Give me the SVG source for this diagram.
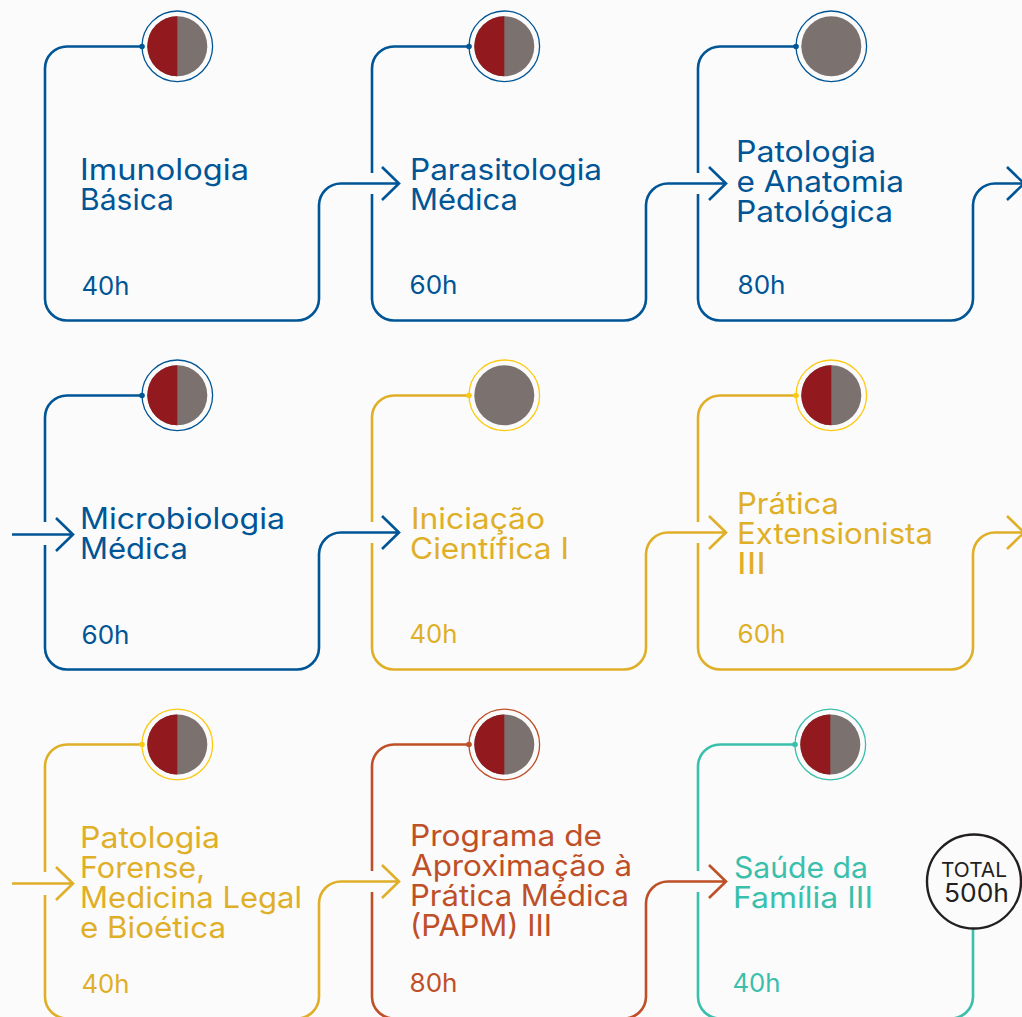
<svg xmlns="http://www.w3.org/2000/svg" width="1022" height="1017" viewBox="0 0 1022 1017">
<style>
.l{fill:none;stroke-width:2.6}
.ring{fill:none;stroke-width:1.3}
text{font-family:"Inter","Noto Sans","Liberation Sans",sans-serif;font-size:29.500px}
.h{font-size:25px}
.blue{stroke:#005596}.tb{fill:#005596}
.yel{stroke:#e0af28}.ty{fill:#e0af28}
.red{stroke:#bf4f27}.tr{fill:#bf4f27}
.grn{stroke:#3abfac}.tg{fill:#3abfac}
.r{fill:#921a1e}.g{fill:#7b7270}
</style>
<defs>
<g id="half"><circle r="30" class="g"/><path d="M0-30A30 30 0 0 0 0 30Z" class="r"/></g>
</defs>
<rect width="1022" height="1017" fill="#fbfbfb"/>
<g id="connectors">
<path class="l blue" d="M142 46.500H67A22 22 0 0 0 45 68.500V299A22 22 0 0 0 67 320.500H297A22 22 0 0 0 319 299V205A22 22 0 0 1 341 183.500H399M382 167L399 183.500L382 200"/>
<path class="l blue" d="M469 46.500H394A22 22 0 0 0 372 68.500V173M372 194V299A22 22 0 0 0 394 320.500H624A22 22 0 0 0 646 299V205A22 22 0 0 1 668 183.500H726M709 167L726 183.500L709 200"/>
<path class="l blue" d="M796 46.500H720A22 22 0 0 0 698 68.500V173M698 194V299A22 22 0 0 0 720 320.500H951A22 22 0 0 0 973 299V205A22 22 0 0 1 995 183.500H1024M1007 167L1024 183.500L1007 200"/>
<path class="l blue" d="M12 534.500H73M56 518L73 534.500L56 551"/>
<path class="l blue" d="M142 395.500H67A22 22 0 0 0 45 417.500V522M45 545V648A22 22 0 0 0 67 669.500H297A22 22 0 0 0 319 648V554A22 22 0 0 1 341 532.500H399M382 516L399 532.500L382 549"/>
<path class="l yel" d="M469 395.500H394A22 22 0 0 0 372 417.500V522M372 543V648A22 22 0 0 0 394 669.500H624A22 22 0 0 0 646 648V554A22 22 0 0 1 668 532.500H726M709 516L726 532.500L709 549"/>
<path class="l yel" d="M796 395.500H720A22 22 0 0 0 698 417.500V522M698 543V648A22 22 0 0 0 720 669.500H951A22 22 0 0 0 973 648V554A22 22 0 0 1 995 532.500H1024M1007 516L1024 532.500L1007 549"/>
<path class="l yel" d="M12 883.500H73M56 867L73 883.500L56 900"/>
<path class="l yel" d="M142 744.500H67A22 22 0 0 0 45 766.500V872M45 895V997A22 22 0 0 0 67 1018.500H297A22 22 0 0 0 319 997V903A22 22 0 0 1 341 881.500H399M382 865L399 881.500L382 898"/>
<path class="l red" d="M469 744.500H394A22 22 0 0 0 372 766.500V871M372 892V997A22 22 0 0 0 394 1018.500H624A22 22 0 0 0 646 997V903A22 22 0 0 1 668 881.500H726M709 865L726 881.500L709 898"/>
<path class="l grn" d="M796 744.500H720A22 22 0 0 0 698 766.500V871M698 892V997A22 22 0 0 0 720 1018.500H951A22 22 0 0 0 973 997V929"/>
</g>
<g id="node-imunologia"><circle cx="177.300" cy="46.300" r="35.300" class="ring blue"/><circle cx="142" cy="46.500" r="2.800" class="tb"/><use href="#half" x="177.300" y="46.300"/><text class="tb" x="80" y="180" textLength="169" lengthAdjust="spacingAndGlyphs">Imunologia</text><text class="tb" x="80" y="210" textLength="94" lengthAdjust="spacingAndGlyphs">Básica</text><text class="tb h" x="81.500" y="295" textLength="48" lengthAdjust="spacingAndGlyphs">40h</text></g>
<g id="node-parasitologia"><circle cx="504.300" cy="46.300" r="35.300" class="ring blue"/><circle cx="469" cy="46.500" r="2.800" class="tb"/><use href="#half" x="504.300" y="46.300"/><text class="tb" x="410" y="180" textLength="192" lengthAdjust="spacingAndGlyphs">Parasitologia</text><text class="tb" x="410" y="210" textLength="108" lengthAdjust="spacingAndGlyphs">Médica</text><text class="tb h" x="409.500" y="294" textLength="48" lengthAdjust="spacingAndGlyphs">60h</text></g>
<g id="node-patologia"><circle cx="831.300" cy="46.300" r="35.300" class="ring blue"/><circle cx="796" cy="46.500" r="2.800" class="tb"/><circle cx="831.300" cy="46.300" r="30" class="g"/><text class="tb" x="736" y="162" textLength="140" lengthAdjust="spacingAndGlyphs">Patologia</text><text class="tb" x="736.500" y="192" textLength="167.500" lengthAdjust="spacingAndGlyphs">e Anatomia</text><text class="tb" x="736" y="222" textLength="157" lengthAdjust="spacingAndGlyphs">Patológica</text><text class="tb h" x="737.500" y="294" textLength="48" lengthAdjust="spacingAndGlyphs">80h</text></g>
<g id="node-microbiologia"><circle cx="177.300" cy="395.300" r="35.300" class="ring blue"/><circle cx="142" cy="395.500" r="2.800" class="tb"/><use href="#half" x="177.300" y="395.300"/><text class="tb" x="80" y="529" textLength="205" lengthAdjust="spacingAndGlyphs">Microbiologia</text><text class="tb" x="80" y="559" textLength="108" lengthAdjust="spacingAndGlyphs">Médica</text><text class="tb h" x="81.500" y="644" textLength="48" lengthAdjust="spacingAndGlyphs">60h</text></g>
<g id="node-iniciacao"><circle cx="504.300" cy="395.300" r="35.300" class="ring" stroke="#fdc911"/><circle cx="469" cy="395.500" r="2.800" fill="#fdc911"/><circle cx="504.300" cy="395.300" r="30" class="g"/><text class="ty" x="411" y="529" textLength="134" lengthAdjust="spacingAndGlyphs">Iniciação</text><text class="ty" x="410" y="559" textLength="159" lengthAdjust="spacingAndGlyphs">Científica I</text><text class="ty h" x="409.500" y="643" textLength="48" lengthAdjust="spacingAndGlyphs">40h</text></g>
<g id="node-extensionista"><circle cx="831.300" cy="395.300" r="35.300" class="ring" stroke="#fdc911"/><circle cx="796" cy="395.500" r="2.800" fill="#fdc911"/><use href="#half" x="831.300" y="395.300"/><text class="ty" x="737" y="514" textLength="102" lengthAdjust="spacingAndGlyphs">Prática</text><text class="ty" x="737" y="544" textLength="196" lengthAdjust="spacingAndGlyphs">Extensionista</text><text class="ty" x="737" y="574" textLength="29" lengthAdjust="spacingAndGlyphs">III</text><text class="ty h" x="737.500" y="643" textLength="48" lengthAdjust="spacingAndGlyphs">60h</text></g>
<g id="node-forense"><circle cx="177.300" cy="744.500" r="35.300" class="ring" stroke="#fdc911"/><circle cx="142" cy="744.500" r="2.800" fill="#fdc911"/><use href="#half" x="177.300" y="744.500"/><text class="ty" x="80" y="848" textLength="140" lengthAdjust="spacingAndGlyphs">Patologia</text><text class="ty" x="80" y="878" textLength="125" lengthAdjust="spacingAndGlyphs">Forense,</text><text class="ty" x="80" y="908" textLength="222" lengthAdjust="spacingAndGlyphs">Medicina Legal</text><text class="ty" x="80" y="938" textLength="146" lengthAdjust="spacingAndGlyphs">e Bioética</text><text class="ty h" x="81.500" y="993" textLength="48" lengthAdjust="spacingAndGlyphs">40h</text></g>
<g id="node-papm"><circle cx="504.300" cy="744.500" r="35.300" class="ring red"/><circle cx="469" cy="744.500" r="2.800" class="tr"/><use href="#half" x="504.300" y="744.500"/><text class="tr" x="410" y="846" textLength="192" lengthAdjust="spacingAndGlyphs">Programa de</text><text class="tr" x="411" y="876" textLength="221" lengthAdjust="spacingAndGlyphs">Aproximação à</text><text class="tr" x="410" y="906" textLength="219" lengthAdjust="spacingAndGlyphs">Prática Médica</text><text class="tr" x="410" y="936" textLength="142" lengthAdjust="spacingAndGlyphs">(PAPM) III</text><text class="tr h" x="409.500" y="992" textLength="48" lengthAdjust="spacingAndGlyphs">80h</text></g>
<g id="node-saude"><circle cx="830.300" cy="744.500" r="35.300" class="ring grn"/><circle cx="795" cy="744.500" r="2.800" class="tg"/><use href="#half" x="830.300" y="744.500"/><text class="tg" x="734" y="878" textLength="134" lengthAdjust="spacingAndGlyphs">Saúde da</text><text class="tg" x="733" y="908" textLength="140" lengthAdjust="spacingAndGlyphs">Família III</text><text class="tg h" x="732.500" y="992" textLength="48" lengthAdjust="spacingAndGlyphs">40h</text></g>
<g id="node-total"><circle cx="974" cy="881.500" r="47" fill="#fbfbfb" stroke="#231f20" stroke-width="2.400"/><text x="941" y="877" textLength="66" lengthAdjust="spacingAndGlyphs" fill="#231f20" style="font-size:20px">TOTAL</text><text x="944" y="902" textLength="65" lengthAdjust="spacingAndGlyphs" fill="#231f20" style="font-size:25.500px">500h</text></g>
</svg>
